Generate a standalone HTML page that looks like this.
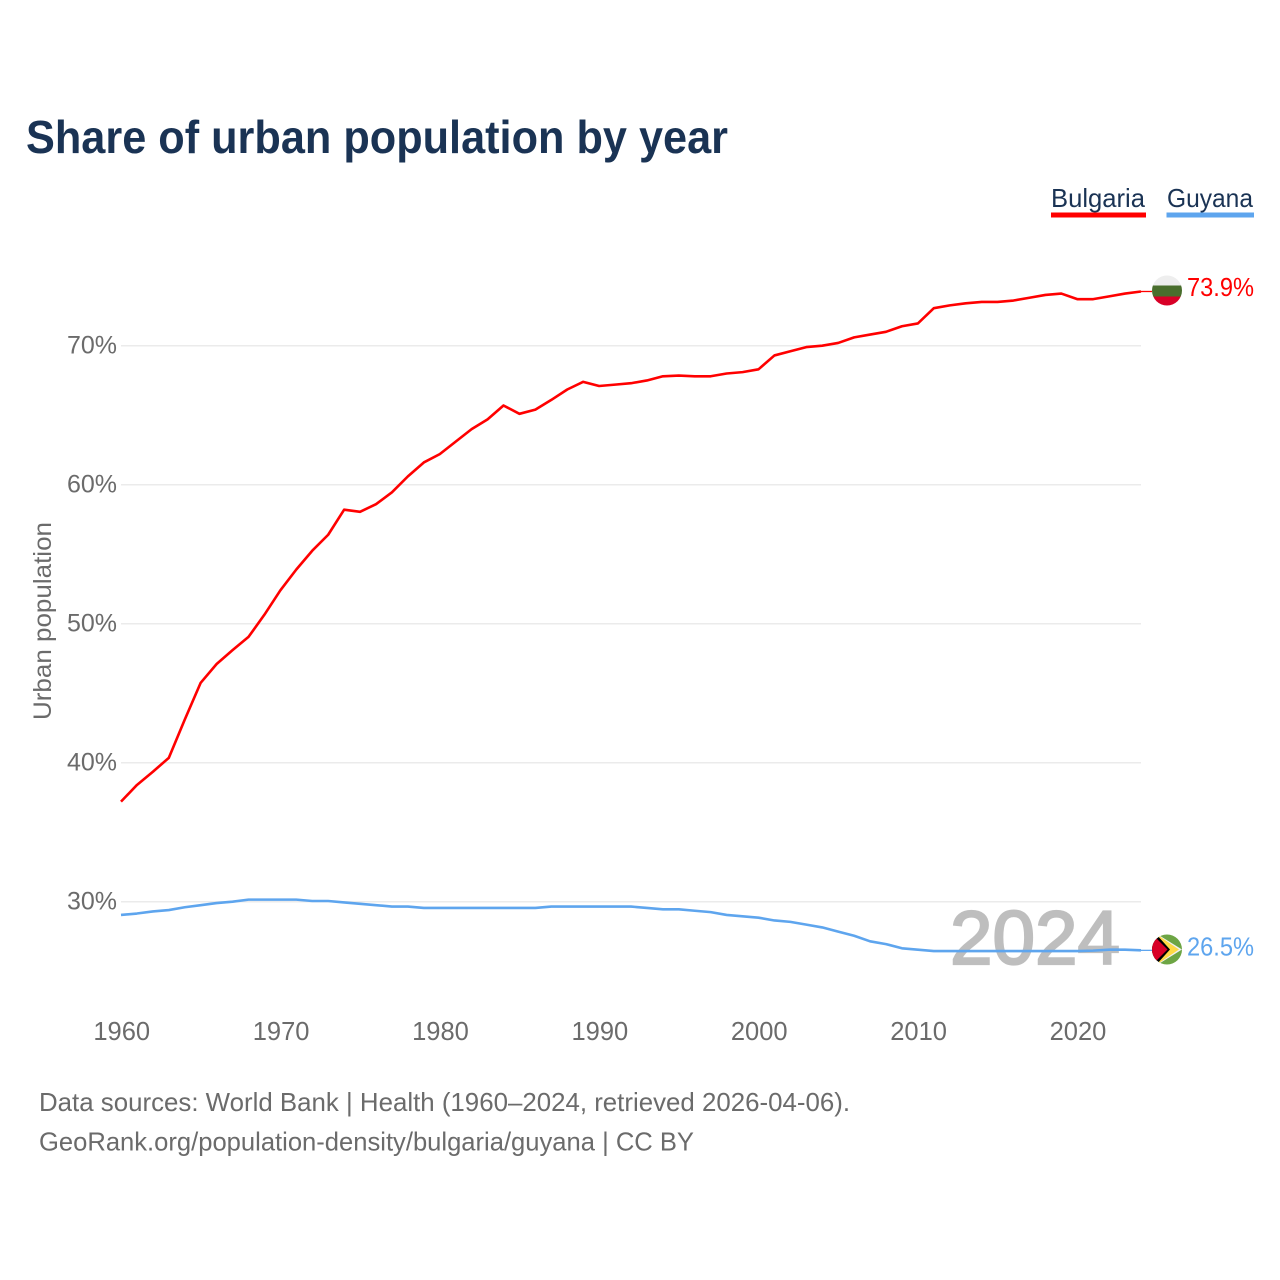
<!DOCTYPE html>
<html lang="en">
<head>
<meta charset="utf-8">
<title>Share of urban population by year</title>
<style>
  html, body { margin: 0; padding: 0; background: #fff; }
  svg { display: block; font-family: "Liberation Sans", sans-serif; }
</style>
</head>
<body>
<svg id="chart" xmlns="http://www.w3.org/2000/svg" width="1280" height="1280" viewBox="0 0 1280 1280">
  <defs>
    <clipPath id="clip-bg"><circle cx="1167" cy="290.5" r="15"></circle></clipPath>
    <clipPath id="clip-gy"><circle cx="1167" cy="949.5" r="15"></circle></clipPath>
  </defs>
  <rect x="0" y="0" width="1280" height="1280" fill="#ffffff"></rect>
  <text x="26" y="153" font-size="46" font-weight="700" fill="#1a3354" textLength="702" lengthAdjust="spacingAndGlyphs">Share of urban population by year</text>

  <g>
    <text x="1051" y="207" font-size="26" fill="#1a3354" textLength="94" lengthAdjust="spacingAndGlyphs">Bulgaria</text>
    <rect x="1051" y="212.5" width="95" height="5" fill="#ff0000"></rect>
  </g>
  <g>
    <text x="1167" y="207" font-size="26" fill="#1a3354" textLength="86" lengthAdjust="spacingAndGlyphs">Guyana</text>
    <rect x="1166.5" y="212.5" width="87.5" height="5" fill="#5ea5ee"></rect>
  </g>

  <g id="grid"></g>
  <g id="yticks"></g>
  <g id="xticks"></g>
  <text transform="translate(51 720) rotate(-90)" x="0" y="0" font-size="25" fill="#6b6b6b" textLength="198" lengthAdjust="spacingAndGlyphs">Urban population</text>

  <text x="950" y="964" font-size="76" fill="#000000" stroke="#000000" stroke-width="2.2" opacity="0.25" textLength="170" lengthAdjust="spacingAndGlyphs">2024</text>

  <g id="series"></g>

  <g clip-path="url(#clip-bg)">
    <rect x="1152" y="275" width="30" height="11" fill="#eeeeee"></rect>
    <rect x="1152" y="285.5" width="30" height="11" fill="#496e2d"></rect>
    <rect x="1152" y="296.5" width="30" height="10" fill="#d80027"></rect>
  </g>
  <g clip-path="url(#clip-gy)">
    <rect x="1152" y="934" width="30" height="31" fill="#6da544"></rect>
    <polygon points="1157,934 1182,949.5 1157,965" fill="#f0f0f0"></polygon>
    <polygon points="1159,936 1179,949.5 1159,963" fill="#ffda44"></polygon>
    <polygon points="1150,934 1156,934 1170,949.5 1156,965 1150,965" fill="#000000"></polygon>
    <polygon points="1150,937 1155,937 1167.5,949.5 1155,962 1150,962" fill="#d80027"></polygon>
  </g>

  <text id="end-label-bulgaria" x="1187" y="296" font-size="26" fill="#ff0000" textLength="67" lengthAdjust="spacingAndGlyphs">73.9%</text>
  <text id="end-label-guyana" x="1187" y="955.5" font-size="26" fill="#5ea5ee" textLength="67" lengthAdjust="spacingAndGlyphs">26.5%</text>

  <text x="39" y="1111" font-size="26" fill="#6b6b6b" textLength="811" lengthAdjust="spacingAndGlyphs">Data sources: World Bank | Health (1960–2024, retrieved 2026-04-06).</text>
  <text x="39" y="1150.5" font-size="26" fill="#6b6b6b" textLength="655" lengthAdjust="spacingAndGlyphs">GeoRank.org/population-density/bulgaria/guyana | CC BY</text>
</svg>
<script>
const startYear = 1960;
const endYear = 2024;
const yTickValues = [30, 40, 50, 60, 70];
const xTickValues = [1960, 1970, 1980, 1990, 2000, 2010, 2020];
const bulgariaValues = [
  37.2, 38.4, 39.35, 40.35, 43.1, 45.75, 47.1, 48.1, 49.05, 50.65,
  52.4, 53.9, 55.25, 56.4, 58.2, 58.05, 58.6, 59.45, 60.6, 61.6,
  62.2, 63.1, 64.0, 64.7, 65.7, 65.1, 65.4, 66.1, 66.85, 67.4,
  67.1, 67.2, 67.3, 67.5, 67.8, 67.85, 67.8, 67.8, 68.0, 68.1,
  68.3, 69.3, 69.6, 69.9, 70.0, 70.2, 70.6, 70.8, 71.0, 71.4,
  71.6, 72.7, 72.9, 73.05, 73.15, 73.15, 73.25, 73.45, 73.65, 73.75,
  73.35, 73.35, 73.55, 73.75, 73.9
];
const guyanaValues = [
  29.05, 29.15, 29.3, 29.4, 29.6, 29.75, 29.9, 30.0, 30.15, 30.15,
  30.15, 30.15, 30.05, 30.05, 29.95, 29.85, 29.75, 29.65, 29.65, 29.55,
  29.55, 29.55, 29.55, 29.55, 29.55, 29.55, 29.55, 29.65, 29.65, 29.65,
  29.65, 29.65, 29.65, 29.55, 29.45, 29.45, 29.35, 29.25, 29.05, 28.95,
  28.85, 28.65, 28.55, 28.35, 28.15, 27.85, 27.55, 27.15, 26.95, 26.65,
  26.55, 26.45, 26.45, 26.45, 26.45, 26.45, 26.45, 26.45, 26.45, 26.45,
  26.45, 26.48, 26.55, 26.55, 26.5
];

const NS = 'http://www.w3.org/2000/svg';
function xScale(year) {
  return 121 + (year - startYear) * (1141 - 121) / (endYear - startYear);
}
function yScale(pct) {
  return 901.7 - (pct - 30) * 13.9;
}

const gridGroup = document.getElementById('grid');
const yTickGroup = document.getElementById('yticks');
yTickValues.forEach(function (v) {
  const line = document.createElementNS(NS, 'line');
  
  
  line.setAttribute('x1', xScale(startYear));
  line.setAttribute('x2', xScale(endYear));
  line.setAttribute('y1', yScale(v));
  line.setAttribute('y2', yScale(v));
  line.setAttribute('stroke', '#ebebeb');
  line.setAttribute('stroke-width', '1.5');
  gridGroup.appendChild(line);

  const label = document.createElementNS(NS, 'text');
  
  
  label.setAttribute('x', 117);
  label.setAttribute('y', yScale(v) + 8);
  label.setAttribute('text-anchor', 'end');
  label.setAttribute('font-size', '25');
  label.setAttribute('fill', '#6b6b6b');
  label.textContent = v + '%';
  yTickGroup.appendChild(label);
});

const xTickGroup = document.getElementById('xticks');
xTickValues.forEach(function (yr) {
  const label = document.createElementNS(NS, 'text');
  
  
  label.setAttribute('x', xScale(yr) + 0.7);
  label.setAttribute('y', 1040);
  label.setAttribute('text-anchor', 'middle');
  label.setAttribute('font-size', '25.5');
  label.setAttribute('fill', '#6b6b6b');
  label.textContent = yr;
  xTickGroup.appendChild(label);
});

function linePoints(values) {
  return values.map(function (v, i) {
    return xScale(startYear + i).toFixed(2) + ',' + yScale(v).toFixed(2);
  }).join(' ');
}

const seriesGroup = document.getElementById('series');

const guyanaLine = document.createElementNS(NS, 'polyline');


guyanaLine.setAttribute('points', linePoints(guyanaValues));
guyanaLine.setAttribute('fill', 'none');
guyanaLine.setAttribute('stroke', '#5ea5ee');
guyanaLine.setAttribute('stroke-width', '2.6');
guyanaLine.setAttribute('stroke-linejoin', 'round');
seriesGroup.appendChild(guyanaLine);

const bulgariaLine = document.createElementNS(NS, 'polyline');


bulgariaLine.setAttribute('points', linePoints(bulgariaValues));
bulgariaLine.setAttribute('fill', 'none');
bulgariaLine.setAttribute('stroke', '#ff0000');
bulgariaLine.setAttribute('stroke-width', '2.6');
bulgariaLine.setAttribute('stroke-linejoin', 'round');
seriesGroup.appendChild(bulgariaLine);

const guyanaConnector = document.createElementNS(NS, 'line');


guyanaConnector.setAttribute('x1', xScale(endYear));
guyanaConnector.setAttribute('x2', 1152);
guyanaConnector.setAttribute('y1', yScale(guyanaValues[guyanaValues.length - 1]));
guyanaConnector.setAttribute('y2', yScale(guyanaValues[guyanaValues.length - 1]));
guyanaConnector.setAttribute('stroke', '#5ea5ee');
guyanaConnector.setAttribute('stroke-width', '1.3');
seriesGroup.appendChild(guyanaConnector);

const bulgariaConnector = document.createElementNS(NS, 'line');


bulgariaConnector.setAttribute('x1', xScale(endYear));
bulgariaConnector.setAttribute('x2', 1152);
bulgariaConnector.setAttribute('y1', yScale(bulgariaValues[bulgariaValues.length - 1]));
bulgariaConnector.setAttribute('y2', yScale(bulgariaValues[bulgariaValues.length - 1]));
bulgariaConnector.setAttribute('stroke', '#ff0000');
bulgariaConnector.setAttribute('stroke-width', '1.3');
seriesGroup.appendChild(bulgariaConnector);
</script>
</body>
</html>
